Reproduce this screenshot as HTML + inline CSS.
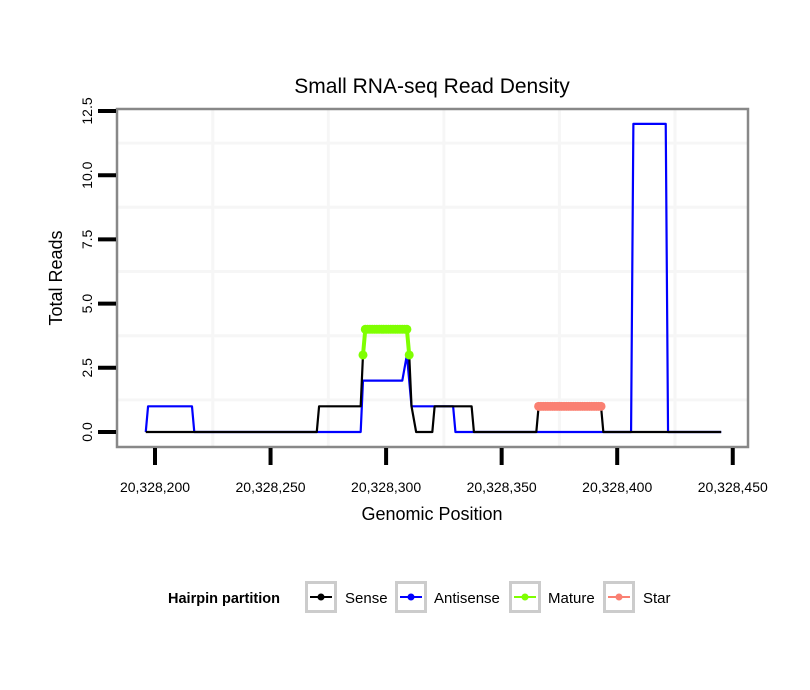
<!DOCTYPE html>
<html><head><meta charset="utf-8"><style>
body{margin:0;background:#fff;}
svg{display:block;font-family:"Liberation Sans",sans-serif;}
</style></head><body>
<svg id="chart" width="810" height="690">
<rect width="810" height="690" fill="#fff"/>
<text x="432" y="93" font-size="21" text-anchor="middle">Small RNA-seq Read Density</text>
<g id="grid"></g>
<g id="series"></g>
<rect x="117" y="109" width="631" height="338" fill="none" stroke="#888" stroke-width="2.5"/>
<g id="axes"></g>
<text x="432" y="520" font-size="18" text-anchor="middle">Genomic Position</text>
<text transform="translate(62,278) rotate(-90)" font-size="18" text-anchor="middle">Total Reads</text>
<g id="legend">
<text x="168" y="603" font-size="14.5" font-weight="bold">Hairpin partition</text>
</g>
</svg>
<script>
const xTicks = [20328200, 20328250, 20328300, 20328350, 20328400, 20328450];
const xTickLabels = ["20,328,200","20,328,250","20,328,300","20,328,350","20,328,400","20,328,450"];
const yTicks = [0, 2.5, 5, 7.5, 10, 12.5];
const yTickLabels = ["0.0","2.5","5.0","7.5","10.0","12.5"];
const senseX = [196,270,271,289,290,291,309,310,311,313,320,321,337,338,365,366,393,394,445];
const senseY = [0,0,1,1,3,4,4,3,1,0,0,1,1,0,0,1,1,0,0];
const antiX = [196,197,216,217,289,290,307,309,311,329,330,406,407,421,422,445];
const antiY = [0,1,1,0,0,2,2,3,1,1,0,0,12,12,0,0];
const matureX = [290,291,292,293,294,295,296,297,298,299,300,301,302,303,304,305,306,307,308,309,310];
const matureY = [3,4,4,4,4,4,4,4,4,4,4,4,4,4,4,4,4,4,4,4,3];
const starX = [366,367,368,369,370,371,372,373,374,375,376,377,378,379,380,381,382,383,384,385,386,387,388,389,390,391,392,393];
const starY = [1,1,1,1,1,1,1,1,1,1,1,1,1,1,1,1,1,1,1,1,1,1,1,1,1,1,1,1];
const base = 20328000;
function sx(v){ const p = v > 100000 ? v : base + v; return 155 + (p - 20328200) * 2.311; }
function sy(v){ return 432 - v * 25.68; }
const NS = "http://www.w3.org/2000/svg";
function mk(tag, attrs, parent){ const e=document.createElementNS(NS,tag); for(const k in attrs) e.setAttribute(k,attrs[k]); parent.appendChild(e); return e; }
const grid=document.getElementById('grid'), series=document.getElementById('series'), axes=document.getElementById('axes'), legend=document.getElementById('legend');
for(let i=0;i<xTicks.length-1;i++){
  const gx=sx((xTicks[i]+xTicks[i+1])/2);
  const l=mk('line',{x1:gx,x2:gx,y1:110,y2:446,stroke:'#f6f6f6','stroke-width':3},grid);
  
  
}
for(let i=0;i<yTicks.length;i++){
  const gy=sy(yTicks[i]+1.25);
  if(gy<110) continue;
  const l=mk('line',{x1:118,x2:747,y1:gy,y2:gy,stroke:'#f6f6f6','stroke-width':3},grid);
  
  
}
xTicks.forEach((t,i)=>{
  const x=sx(t);
  const l=mk('line',{x1:x,x2:x,y1:448,y2:465,stroke:'#000','stroke-width':4},axes);
  
  
  const tx=mk('text',{x:x,y:492,'font-size':14,'text-anchor':'middle'},axes);
  tx.textContent=xTickLabels[i];
  
  
});
yTicks.forEach((t,i)=>{
  const y=sy(t);
  const l=mk('line',{x1:98,x2:116,y1:y,y2:y,stroke:'#000','stroke-width':4},axes);
  
  
  const tx=mk('text',{transform:`translate(92,${y}) rotate(-90)`,'font-size':14,'text-anchor':'middle'},axes);
  tx.textContent=yTickLabels[i];
  
  
});
function line(xs,ys,color,name,w){
  const pts=xs.map((x,i)=>sx(x)+','+sy(ys[i])).join(' ');
  const p=mk('polyline',{points:pts,fill:'none',stroke:color,'stroke-width':w,'stroke-linejoin':'round'},series);
  
  
}
function dots(xs,ys,color,name){
  xs.forEach((x,i)=>{
    const c=mk('circle',{cx:sx(x),cy:sy(ys[i]),r:4.5,fill:color},series);
    
    
  });
}
line(antiX,antiY,'#0000ff','antisense-line',2.2);
line(senseX,senseY,'#000','sense-line',2.2);
line(matureX,matureY,'#7fff00','mature-line',4);
dots(matureX,matureY,'#7fff00','mature-point');
line(starX,starY,'#fa8072','star-line',4);
dots(starX,starY,'#fa8072','star-point');
const legItems=[["Sense","#000",305,345],["Antisense","#0000ff",395,434],["Mature","#7fff00",509,548],["Star","#fa8072",603,643]];
legItems.forEach(it=>{
  const g=mk('g',{},legend);
  
  
  mk('rect',{x:it[2]+1.5,y:582.5,width:29,height:29,fill:'#fff',stroke:'#ccc','stroke-width':3},g);
  mk('line',{x1:it[2]+5,x2:it[2]+27,y1:597,y2:597,stroke:it[1],'stroke-width':2},g);
  mk('circle',{cx:it[2]+16,cy:597,r:3.5,fill:it[1]},g);
  const t=mk('text',{x:it[3],y:603,'font-size':15},g);
  t.textContent=it[0];
});
</script>
</body></html>
